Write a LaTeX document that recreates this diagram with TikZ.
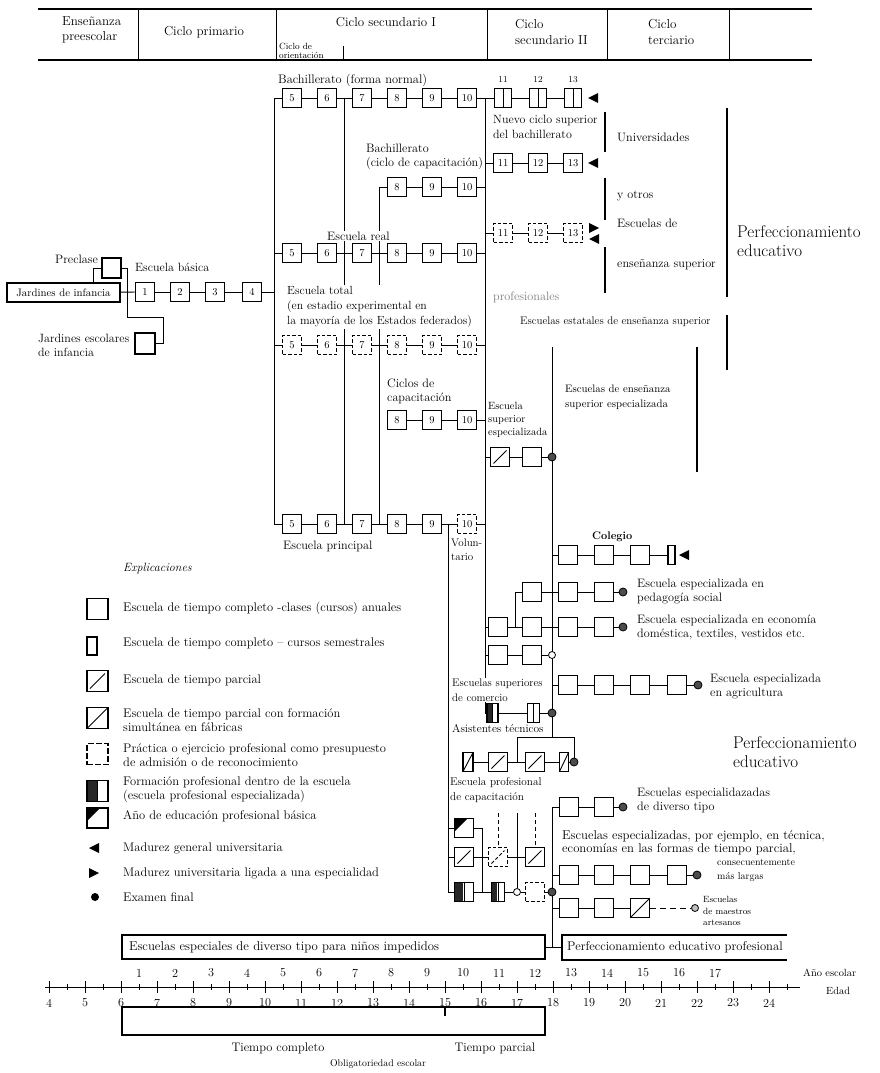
\documentclass[tikz,border=0pt]{standalone}
\usepackage{fontspec}
\usetikzlibrary{calc}
\pgfdeclarelayer{bg}
\pgfsetlayers{bg,main}
\tikzset{
  T/.style={font=\fontsize{12.2}{14}\selectfont, align=left, anchor=west, inner sep=0pt},
  TL/.style={font=\fontsize{12.5}{14}\selectfont, align=left, anchor=west, inner sep=0pt},
  Tc/.style={T, anchor=center, align=center},
  Th/.style={font=\fontsize{13}{15.5}\selectfont, align=left, anchor=west, inner sep=0pt},
  Ts/.style={font=\fontsize{9}{10}\selectfont, align=left, anchor=west, inner sep=0pt},
  Tb/.style={font=\fontsize{17}{19}\selectfont, align=left, anchor=west, inner sep=0pt},
  wf/.style={fill=white, inner sep=1pt},
  bx/.style={draw, line width=1.1pt, fill=white, minimum width=19pt, minimum height=19pt, inner sep=0pt, font=\fontsize{10.5}{10}\selectfont},
  dbx/.style={bx, dash pattern=on 3.5pt off 2pt},
  sem/.style={bx, minimum width=17pt, path picture={\draw[line width=0.8pt] (path picture bounding box.north) -- (path picture bounding box.south);}},
  slb/.style={bx, path picture={\draw[black, line width=0.9pt] ([shift={(3pt,3pt)}]path picture bounding box.south west) -- ([shift={(-3pt,-3pt)}]path picture bounding box.north east);}},
  dslb/.style={slb, dash pattern=on 3.5pt off 2pt},
  slf/.style={bx, path picture={\draw[black, line width=0.9pt] (path picture bounding box.south west) -- (path picture bounding box.north east);}},
  hf/.style={bx, path picture={\fill[black!85] (path picture bounding box.south west) rectangle ([xshift=-1pt]path picture bounding box.north); \draw[black, line width=0.8pt] (path picture bounding box.north) -- (path picture bounding box.south);}},
  trb/.style={bx, path picture={\fill[black] (path picture bounding box.north west) -- ([xshift=13pt]path picture bounding box.north west) -- ([yshift=-13pt]path picture bounding box.north west) -- cycle;}},
  ex/.style={circle, draw, line width=0.8pt, fill=black!70, minimum size=8pt, inner sep=0pt},
  oc/.style={circle, draw, line width=0.8pt, fill=white, minimum size=7pt, inner sep=0pt},
  cn/.style={line width=0.85pt},
  hd/.style={line width=1.6pt},
  tk/.style={line width=1.5pt},
  mleft/.pic={\fill[black] (0,0) -- (10,-5) -- (10,5) -- cycle;},
  mright/.pic={\fill[black] (10,0) -- (0,-5) -- (0,5) -- cycle;},
}
\begin{document}
\begin{tikzpicture}[x=1pt,y=-1pt]
\useasboundingbox (0,0) rectangle (879,1073);
\begin{pgfonlayer}{bg}
\fill[white] (0,0) rectangle (879,1073);
\end{pgfonlayer}

% ---------------- header
\coordinate (hTL) at (38,9); \coordinate (hTR) at (812,9);
\coordinate (hBL) at (38,60); \coordinate (hBR) at (812,60);
\draw[hd] (hTL) -- (hTR); \draw[hd] (hBL) -- (hBR);
\foreach \x [count=\i] in {138,276,487,607,729} {\coordinate (dT\i) at (\x,9); \coordinate (dB\i) at (\x,60); \draw[line width=0.9pt] (dT\i) -- (dB\i);}
\coordinate (oT) at (343,46); \coordinate (oB) at (343,60); \draw[line width=0.9pt] (oT) -- (oB);
\node[Th] (h1) at (62,30) {Enseñanza\\preescolar};
\node[Th, anchor=center] (h2) at (204,32) {Ciclo primario};
\node[Th, anchor=center] (h3) at (386,22) {Ciclo secundario I};
\node[font=\fontsize{9}{8.5}\selectfont\addfontfeature{LetterSpace=6}, align=left, anchor=west, inner sep=0pt] (h3b) at (279,51) {Ciclo de\\orientación};
\node[Th] (h4) at (515,32) {Ciclo\\secundario II};
\node[Th] (h5) at (648,32) {Ciclo\\terciario};

% ---------------- upper rows
\node[T, font=\fontsize{12.4}{14}\selectfont] (lb1) at (278,80) {Bachillerato (forma normal)};
\foreach \n/\x in {5/292,6/327,7/362,8/397,9/432,10/467} \node[bx] (r1-\n) at (\x,98) {\n};
\foreach \n/\x in {11/503,12/538,13/573} {\node[sem] (r1-\n) at (\x,98) {}; \node[Ts, anchor=center] (n1-\n) at (\x,80) {\n};}
\pic (m1) at (588,98) {mleft};
\node[T, font=\fontsize{12}{15}\selectfont] (lb2) at (493,127) {Nuevo ciclo superior\\del bachillerato};

\node[T] (lb3) at (366,157) {Bachillerato\\(ciclo de capacitación)};
\foreach \n/\x in {11/503,12/538,13/573} \node[bx] (r2-\n) at (\x,163) {\n};
\pic (m2) at (588,163) {mleft};
\foreach \n/\x in {8/397,9/432,10/467} \node[bx] (r3-\n) at (\x,187) {\n};

\foreach \n/\x in {11/503,12/538,13/573} \node[dbx] (r4-\n) at (\x,233) {\n};
\pic (m4a) at (589,228) {mright};
\pic (m4b) at (589,239) {mleft};
\node[T, wf] (lb4) at (326,236) {Escuela real};
\foreach \n/\x in {5/292,6/327,7/362,8/397,9/432,10/467} \node[bx] (r5-\n) at (\x,253) {\n};
\node[T, text=black!50] (prof) at (493,297) {profesionales};

\node[T, wf, font=\fontsize{11.8}{15}\selectfont] (lb5) at (286,307) {Escuela total\\(en estadio experimental en\\la mayoría de los Estados federados)};
\foreach \n/\x in {5/292,6/327,7/362,8/397,9/432,10/467} \node[dbx] (r6-\n) at (\x,345) {\n};

\node[T] (lb6) at (387,391) {Ciclos de\\capacitación};
\foreach \n/\x in {8/397,9/432,10/467} \node[bx] (r7-\n) at (\x,420) {\n};
\node[T, font=\fontsize{10.5}{13}\selectfont] (lb7) at (488,420) {Escuela\\superior\\especializada};
\node[slb] (r8-1) at (500,457) {};
\node[bx] (r8-2) at (532,457) {};
\node[ex] (r8-3) at (552,457) {};

\foreach \n/\x in {5/292,6/327,7/362,8/397,9/432} \node[bx] (r9-\n) at (\x,524) {\n};
\node[dbx] (r9-10) at (467,524) {10};
\node[T] (lb8) at (283,546) {Escuela principal};
\node[T, font=\fontsize{11}{14}\selectfont] (lb9) at (451,550) {Volun-\\tario};

% right upper labels
\node[T] (univ) at (617,137) {Universidades};
\node[T] (yotros) at (617,196) {y otros};
\node[T] (escde) at (617,223) {Escuelas de};
\node[T] (ens) at (617,265) {enseñanza superior};
\node[T, font=\fontsize{11}{14}\selectfont] (estat) at (520,322) {Escuelas estatales de enseñanza superior};
\node[T, font=\fontsize{10.8}{15}\selectfont] (esesp) at (565,397) {Escuelas de enseñanza\\superior especializada};
\node[Tb] (perf1) at (737,241) {Perfeccionamiento\\educativo};

% ---------------- left part
\node[draw, line width=1.1pt, fill=white, minimum width=113pt, minimum height=19pt, inner sep=0pt, font=\fontsize{10.8}{12}\selectfont] (jdi) at (63.5,292.5) {Jardines de infancia};
\node[bx, minimum height=20pt] (pre) at (111.5,268) {};
\node[T] (lpre) at (55,259) {Preclase};
\node[bx, minimum width=20pt, minimum height=21pt] (jei) at (145,343.5) {};
\node[T, font=\fontsize{12}{14}\selectfont] (ljei) at (38,345) {Jardines escolares\\de infancia};
\node[T, font=\fontsize{12}{14}\selectfont] (leb) at (135,267) {Escuela básica};
\foreach \n/\x in {1/145,2/180,3/215,4/252} \node[bx] (eb\n) at (\x,292) {\n};

% ---------------- lower right
\node[T, font=\bfseries\fontsize{11}{14}\selectfont] (lcol) at (592,537) {Colegio};
\foreach \n/\x in {1/568,2/604,3/640} \node[bx] (co\n) at (\x,555) {};
\node[bx, minimum width=7pt] (co4) at (671.5,555) {};
\pic (m5) at (679,555) {mleft};

\foreach \n/\x in {0/532,1/568,2/604} \node[bx] (pe\n) at (\x,592) {};
\node[ex] (pe3) at (623,592) {};
\node[T] (lpe) at (637,592) {Escuela especializada en\\pedagogía social};

\foreach \n/\x in {0/498,1/532,2/568,3/604} \node[bx] (ec\n) at (\x,627) {};
\node[ex] (ec4) at (623,627) {};
\node[T] (lec) at (637,627) {Escuela especializada en economía\\doméstica, textiles, vestidos etc.};

\node[bx] (sc1) at (498,655) {};
\node[bx] (sc2) at (532,655) {};
\node[oc] (sc3) at (552,655) {};

\foreach \n/\x in {1/568,2/604,3/640,4/677} \node[bx] (ag\n) at (\x,685) {};
\node[ex] (ag5) at (698,685) {};
\node[T] (lag) at (710,687) {Escuela especializada\\en agricultura};

\node[T, wf, font=\fontsize{11}{14.5}\selectfont] (lsc) at (451,690) {Escuelas superiores\\de comercio};
\node[hf, minimum width=11pt] (km1) at (492.5,713) {};
\node[sem, minimum width=12pt] (km2) at (533.5,713) {};
\node[ex] (km3) at (552,713) {};
\node[T, font=\fontsize{11.4}{14}\selectfont] (las) at (452,728) {Asistentes técnicos};

\node[slf, minimum width=10pt] (as1) at (468,762) {};
\node[slb] (as2) at (498,762) {};
\node[slb] (as3) at (535,762) {};
\node[slf, minimum width=9pt] (as4) at (564,762) {};
\node[ex] (as5) at (574,762) {};

\node[Tb] (perf2) at (733,752) {Perfeccionamiento\\educativo};

\node[T, font=\fontsize{11.2}{15}\selectfont] (lpc) at (450,790) {Escuela profesional\\de capacitación};
\node[trb] (ra1) at (464,828) {};
\node[slb] (rb1) at (464,857) {};
\node[dslb] (rb2) at (498,857) {};
\node[slb] (rb3) at (535,857) {};
\node[hf] (rc1) at (464,892) {};
\node[hf, minimum width=13pt] (rc2) at (498,892) {};
\node[oc] (rc3) at (517,892) {};
\node[dbx] (rc4) at (535,892) {};
\node[ex] (rc5) at (552,892) {};

\node[bx] (dt1) at (569,807) {};
\node[bx] (dt2) at (604,807) {};
\node[ex] (dt3) at (623,807) {};
\node[T] (ldt) at (637,800) {Escuelas especialidazadas\\de diverso tipo};

\node[T, font=\fontsize{12.7}{13.5}\selectfont] (ltc) at (562,843) {Escuelas especializadas, por ejemplo, en técnica,\\economías en las formas de tiempo parcial,};
\foreach \n/\x in {1/569,2/604,3/640,4/677} \node[bx] (tc\n) at (\x,875) {};
\node[ex] (tc5) at (697,875) {};
\node[font=\fontsize{10}{14}\selectfont\addfontfeature{LetterSpace=10}, align=left, anchor=west, inner sep=0pt] (ltc2) at (717,870) {consecuentemente\\más largas};

\node[bx] (ar1) at (569,908) {};
\node[bx] (ar2) at (604,908) {};
\node[slf] (ar3) at (640,908) {};
\node[oc, fill=black!25] (ar4) at (695,908) {};
\node[font=\fontsize{9}{11.5}\selectfont, align=left, anchor=west, inner sep=0pt] (lar) at (703,911) {Escuelas\\de maestros\\artesanos};

% ---------------- bottom boxes
\node[draw, line width=1.1pt, minimum height=24pt, text width=409pt, inner xsep=7pt, inner ysep=0pt, align=left, font=\fontsize{12.8}{14}\selectfont] (esp) at (333.5,947) {Escuelas especiales de diverso tipo para niños impedidos};
\coordinate (pepL) at (562,947);
\coordinate (pTL) at (562,935); \coordinate (pTR) at (787,935);
\coordinate (pBL) at (562,960); \coordinate (pBR) at (787,960);
\draw[line width=1.1pt] (pTR) -- (pTL) -- (pBL) -- (pBR);
\node[T, font=\fontsize{12.6}{12}\selectfont] (pep) at (567,947) {Perfeccionamiento educativo profesional};

% ---------------- axis
\coordinate (ax0) at (45,987); \coordinate (ax1) at (800,987);
\draw[line width=1pt] (ax0) -- (ax1);
\foreach \a in {4,...,24} {
  \pgfmathsetmacro\xx{49+36*(\a-4)}
  \draw[line width=0.9pt] (\xx,981) -- (\xx,993);
  \draw[line width=0.6pt] (\xx+18,984) -- (\xx+18,990);
  \node[Tc] (age\a) at (\xx,1003) {\a};
}
\foreach \n in {1,...,17} {
  \pgfmathsetmacro\xx{103+36*\n}
  \node[Tc] (yr\n) at (\xx,973) {\n};
}
\node[T, font=\fontsize{10.4}{12}\selectfont] (lyr) at (803,973) {Año escolar};
\node[T, font=\fontsize{10.4}{12}\selectfont] (led) at (826,991) {Edad};
\node[draw, line width=1.3pt, minimum width=423pt, minimum height=28pt, inner sep=0pt] (obl) at (333.5,1021) {};
\coordinate (otk1) at (445,1007); \coordinate (otk2) at (445,1016);
\draw[line width=1.2pt] (otk1) -- (otk2);
\node[Tc, font=\fontsize{12.4}{14}\selectfont] (ltc3) at (278,1048) {Tiempo completo};
\node[Tc, font=\fontsize{12.4}{14}\selectfont] (ltp) at (495,1048) {Tiempo parcial};
\node[Tc, font=\fontsize{9.8}{12}\selectfont] (lob) at (378,1064) {Obligatoriedad escolar};

% ---------------- legend
\node[TL, font=\itshape\fontsize{12}{14}\selectfont] (lgh) at (123,568) {Explicaciones};
\node[bx, minimum width=21pt, minimum height=21pt] (lg1) at (97.5,609) {};
\node[TL] (lt1) at (123,608) {Escuela de tiempo completo -clases (cursos) anuales};
\node[bx, minimum width=10pt, minimum height=18pt] (lg2) at (92,646) {};
\node[TL] (lt2) at (123,643) {Escuela de tiempo completo – cursos semestrales};
\node[slb, minimum width=21pt, minimum height=21pt] (lg3) at (97.5,681) {};
\node[TL] (lt3) at (123,680) {Escuela de tiempo parcial};
\node[slf, minimum width=21pt, minimum height=21pt] (lg4) at (97.5,718) {};
\node[TL] (lt4) at (123,720) {Escuela de tiempo parcial con formación\\simultánea en fábricas};
\node[bx, dash pattern=on 6pt off 2pt, minimum width=21pt, minimum height=21pt] (lg5) at (97.5,754) {};
\node[TL] (lt5) at (123,755) {Práctica o ejercicio profesional como presupuesto\\de admisión o de reconocimiento};
\node[hf, minimum width=21pt, minimum height=21pt] (lg6) at (97.5,791) {};
\node[TL] (lt6) at (123,790) {Formación profesional dentro de la escuela\\(escuela profesional especializada)};
\node[trb, minimum width=21pt, minimum height=20pt] (lg7) at (97.5,818) {};
\node[TL] (lt7) at (123,816) {Año de educación profesional básica};
\pic (lg8) at (89,848) {mleft};
\node[TL] (lt8) at (123,848) {Madurez general universitaria};
\pic (lg9) at (89,873) {mright};
\node[TL] (lt9) at (123,873) {Madurez universitaria ligada a una especialidad};
\node[circle, fill, minimum size=8pt, inner sep=0pt] (lg10) at (95,897) {};
\node[TL] (lt10) at (123,897) {Examen final};

% ---------------- connectors
\begin{pgfonlayer}{bg}
\foreach \r in {1,5,6,9} {\foreach \a/\b in {5/6,6/7,7/8,8/9,9/10} \draw[cn] (r\r-\a) -- (r\r-\b);}
\foreach \a/\b in {10/11,11/12,12/13} \draw[cn] (r1-\a) -- (r1-\b);
\foreach \a/\b in {11/12,12/13} {\draw[cn] (r2-\a) -- (r2-\b); \draw[cn] (r4-\a) -- (r4-\b);}
\foreach \a/\b in {8/9,9/10} {\draw[cn] (r3-\a) -- (r3-\b); \draw[cn] (r7-\a) -- (r7-\b);}
\draw[cn] (r8-1) -- (r8-2); \draw[cn] (r8-2) -- (r8-3);
\coordinate (v1t) at (274,98); \coordinate (v1b) at (274,524);
\draw[cn] (r1-5) -- (v1t) -- (v1b) -- (r9-5);
\draw[cn] (r5-5) -- (r5-5 -| v1t); \draw[cn] (r6-5) -- (r6-5 -| v1t);
\coordinate (v2t) at (344.5,98); \coordinate (v2b) at (344.5,524); \draw[cn] (v2t) -- (v2b);
\coordinate (v3t) at (379.5,187); \coordinate (v3b) at (379.5,524); \draw[cn] (r3-8) -- (v3t) -- (v3b);
\coordinate (v4t) at (485,98); \coordinate (v4b) at (485,713); \draw[cn] (v4t) -- (v4b) -- (km1);
\foreach \nd in {r2-11,r3-10,r4-11,r5-10,r6-10,r7-10,r8-1,r9-10,ec0,sc1} \draw[cn] (\nd) -- (\nd -| v4t);
\coordinate (v5t) at (552,347); \coordinate (v5a) at (552,737); \draw[cn] (v5t) -- (v5a);
\coordinate (v5m) at (552,807); \coordinate (v5e) at (552,947); \draw[cn] (dt1) -- (v5m) -- (v5e);
\coordinate (v6t) at (448,524); \coordinate (v6b) at (448,892); \draw[cn] (v6t) -- (v6b) -- (rc1);
\draw[cn] (ra1) -- (ra1 -| v6t); \draw[cn] (rb1) -- (rb1 -| v6t);
% thick brackets
\coordinate (s1a) at (605,112); \coordinate (s1b) at (605,152); \draw[tk] (s1a) -- (s1b);
\coordinate (s2a) at (605,178); \coordinate (s2b) at (605,220); \draw[tk] (s2a) -- (s2b);
\coordinate (s3a) at (605,247); \coordinate (s3b) at (605,293); \draw[tk] (s3a) -- (s3b);
\coordinate (s4a) at (727,108); \coordinate (s4b) at (727,297); \draw[tk] (s4a) -- (s4b);
\coordinate (s5a) at (727,315); \coordinate (s5b) at (727,370); \draw[tk] (s5a) -- (s5b);
\coordinate (s6a) at (697,347); \coordinate (s6b) at (697,472); \draw[tk] (s6a) -- (s6b);
% left part
\draw[cn] (jdi) -- (eb1);
\foreach \a/\b in {1/2,2/3,3/4} \draw[cn] (eb\a) -- (eb\b);
\draw[cn] (eb4) -- (eb4 -| v1t);
\coordinate (pj) at (93,268); \draw[cn] (pj |- jdi.north) -- (pj) -- (pre);
\coordinate (pk1) at (127,268); \coordinate (pk2) at (127,317); \coordinate (pk3) at (163,317); \coordinate (pk4) at (163,343.5);
\draw[cn] (pre) -- (pk1) -- (pk2) -- (pk3) -- (pk4) -- (jei);
% lower right
\draw[cn] (co1) -- (co1 -| v5t);
\foreach \a/\b in {1/2,2/3,3/4} \draw[cn] (co\a) -- (co\b);
\foreach \a/\b in {0/1,1/2,2/3} \draw[cn] (pe\a) -- (pe\b);
\foreach \a/\b in {0/1,1/2,2/3,3/4} \draw[cn] (ec\a) -- (ec\b);
\coordinate (brx) at (515,627); \draw[cn] (brx) -- (brx |- pe0) -- (pe0);
\draw[cn] (sc1) -- (sc2); \draw[cn] (sc2) -- (sc3);
\draw[cn] (ag1) -- (ag1 -| v5t);
\foreach \a/\b in {1/2,2/3,3/4,4/5} \draw[cn] (ag\a) -- (ag\b);
\draw[cn] (km1) -- (km2); \draw[cn] (km2) -- (km3);
\foreach \a/\b in {1/2,2/3,3/4,4/5} \draw[cn] (as\a) -- (as\b);
\coordinate (asj) at (517,737); \coordinate (asr) at (574,737);
\draw[cn] (asj |- as2) -- (asj) -- (asr) -- (as5);
\coordinate (rak) at (482,828); \draw[cn] (ra1) -- (rak) -- (rak |- rc1);
\draw[cn] (rb1) -- (rb2); \draw[cn] (rb2) -- (rb3);
\foreach \a/\b in {1/2,2/3,3/4,4/5} \draw[cn] (rc\a) -- (rc\b);
\coordinate (dq1) at (498,813); \draw[cn, dash pattern=on 4pt off 3pt] (dq1) -- (rb2);
\coordinate (dq2) at (535,813); \draw[cn, dash pattern=on 4pt off 3pt] (dq2) -- (rb3);
\coordinate (sq) at (517,813); \draw[cn] (sq) -- (rc3);
\draw[cn] (dt1) -- (dt2); \draw[cn] (dt2) -- (dt3);
\draw[cn] (tc1) -- (tc1 -| v5t);
\foreach \a/\b in {1/2,2/3,3/4,4/5} \draw[cn] (tc\a) -- (tc\b);
\draw[cn] (ar1) -- (ar1 -| v5t);
\draw[cn] (ar1) -- (ar2); \draw[cn] (ar2) -- (ar3);
\draw[cn, dash pattern=on 6pt off 4pt] (ar3) -- (ar4);
\draw[cn] (esp) -- (pepL);
\end{pgfonlayer}
\end{tikzpicture}
\end{document}
